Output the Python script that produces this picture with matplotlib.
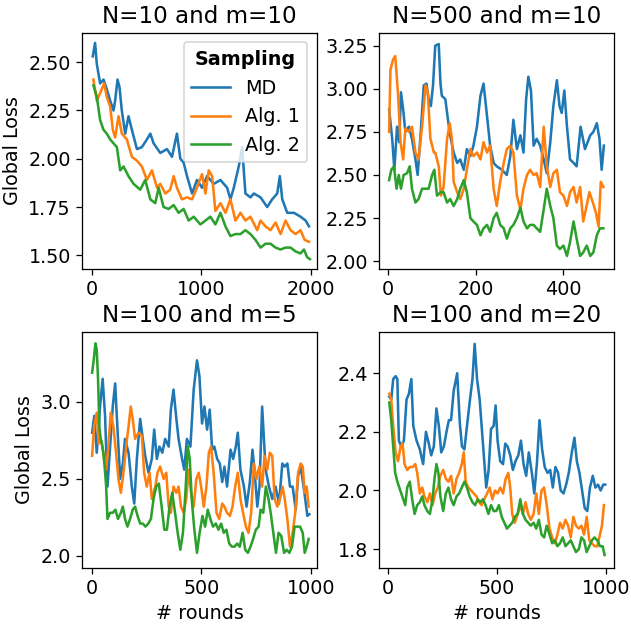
import numpy as np
import matplotlib
matplotlib.use("Agg")
import matplotlib.pyplot as plt

plt.rcParams['font.family'] = ['DejaVu Sans']
plt.rcParams['font.size'] = 12

# ── Panel 1: N=10 and m=10 ────────────────────────────────────────────────
p1_md_x = [9, 30, 46, 76, 107, 137, 168, 198, 213, 235, 253, 274, 305, 335, 366,
           412, 457, 503, 534, 564, 625, 686, 732, 777, 808, 838, 869, 915, 960, 1006,
           1052, 1113, 1174, 1235, 1265, 1296, 1341, 1372, 1402, 1448, 1479, 1540, 1601,
           1646, 1692, 1716, 1738, 1784, 1845, 1905, 1951, 1982]
p1_md_y = [2.53, 2.60, 2.49, 2.39, 2.41, 2.36, 2.30, 2.25, 2.30, 2.41, 2.37, 2.25, 2.13,
           2.22, 2.15, 2.05, 2.06, 2.10, 2.13, 2.08, 2.03, 2.05, 2.01, 2.13, 2.00, 1.98,
           1.91, 1.82, 1.89, 1.85, 1.91, 1.87, 1.89, 1.85, 1.79, 1.85, 1.96, 2.06, 1.82,
           1.80, 1.82, 1.80, 1.75, 1.79, 1.82, 1.91, 1.79, 1.72, 1.72, 1.70, 1.68, 1.65]
p1_a1_x = [15, 46, 76, 113, 137, 168, 192, 213, 244, 274, 320, 366, 412, 457, 503,
           549, 595, 625, 671, 716, 747, 777, 823, 869, 915, 960, 1006, 1037, 1067, 1098,
           1128, 1174, 1220, 1265, 1311, 1357, 1402, 1448, 1509, 1540, 1585, 1631, 1677,
           1723, 1768, 1814, 1860, 1905, 1942, 1982]
p1_a1_y = [2.41, 2.30, 2.34, 2.39, 2.32, 2.27, 2.15, 2.11, 2.22, 2.13, 2.10, 2.01, 1.99,
           1.96, 1.89, 1.94, 1.85, 1.87, 1.82, 1.84, 1.91, 1.85, 1.79, 1.80, 1.79, 1.85,
           1.92, 1.82, 1.94, 1.91, 1.73, 1.77, 1.72, 1.79, 1.68, 1.72, 1.68, 1.70, 1.63,
           1.68, 1.65, 1.63, 1.67, 1.61, 1.68, 1.63, 1.61, 1.63, 1.58, 1.57]
p1_a2_x = [15, 46, 76, 107, 137, 168, 198, 229, 259, 290, 335, 381, 442, 488, 534,
           579, 610, 655, 701, 747, 793, 838, 884, 930, 991, 1037, 1082, 1128, 1174, 1220,
           1265, 1311, 1357, 1402, 1448, 1494, 1540, 1585, 1631, 1677, 1723, 1768, 1814,
           1860, 1905, 1936, 1966, 1991]
p1_a2_y = [2.38, 2.32, 2.20, 2.15, 2.13, 2.10, 2.08, 2.06, 1.94, 1.96, 1.91, 1.87, 1.84,
           1.89, 1.79, 1.77, 1.85, 1.75, 1.74, 1.76, 1.72, 1.74, 1.68, 1.70, 1.66, 1.68,
           1.70, 1.66, 1.72, 1.65, 1.60, 1.61, 1.61, 1.63, 1.61, 1.58, 1.54, 1.56, 1.56,
           1.54, 1.53, 1.54, 1.54, 1.52, 1.51, 1.53, 1.49, 1.48]

# ── Panel 2: N=500 and m=10 ───────────────────────────────────────────────
p2_md_x = [3, 10, 15, 21, 26, 30, 35, 40, 48, 55, 63, 68, 74, 82, 88, 93, 98, 103, 108,
           116, 120, 123, 131, 136, 142, 150, 158, 165, 173, 180, 188, 195, 203, 211, 218,
           226, 233, 241, 248, 260, 271, 279, 286, 294, 302, 309, 315, 320, 326, 332, 339,
           347, 355, 362, 370, 377, 385, 391, 396, 402, 408, 415, 423, 430, 439, 449, 461,
           468, 476, 482, 487, 492]
p2_md_y = [2.88, 2.71, 2.53, 2.78, 2.69, 2.98, 2.88, 2.75, 2.78, 2.71, 2.59, 2.50, 2.71,
           3.02, 3.03, 2.94, 2.90, 3.02, 3.25, 3.26, 3.03, 2.96, 2.94, 2.84, 2.73, 2.63,
           2.57, 2.59, 2.53, 2.65, 2.61, 2.67, 2.78, 2.96, 3.03, 2.84, 2.67, 2.57, 2.55,
           2.53, 2.50, 2.61, 2.82, 2.65, 2.73, 2.63, 2.94, 3.07, 2.99, 2.67, 2.71, 2.67,
           2.59, 2.51, 2.69, 2.90, 3.05, 2.90, 2.86, 2.99, 2.78, 2.59, 2.57, 2.55, 2.78,
           2.65, 2.73, 2.75, 2.80, 2.71, 2.53, 2.67]
p2_a1_x = [3, 6, 12, 17, 23, 29, 35, 40, 48, 55, 63, 70, 78, 86, 91, 97, 105, 108, 116,
           121, 127, 135, 141, 146, 150, 158, 165, 173, 180, 188, 195, 203, 211, 218, 226,
           233, 241, 248, 256, 264, 271, 279, 286, 294, 302, 309, 317, 324, 332, 339, 347,
           355, 362, 370, 377, 385, 392, 400, 408, 415, 423, 430, 438, 445, 451, 459, 467,
           474, 480, 485, 491]
p2_a1_y = [2.75, 3.11, 3.17, 3.19, 2.98, 2.69, 2.59, 2.77, 2.75, 2.78, 2.63, 2.59, 2.78,
           3.02, 2.98, 2.71, 2.63, 2.63, 2.55, 2.38, 2.43, 2.71, 2.80, 2.71, 2.46, 2.40,
           2.36, 2.42, 2.53, 2.65, 2.61, 2.63, 2.59, 2.69, 2.63, 2.67, 2.42, 2.32, 2.46,
           2.57, 2.65, 2.67, 2.63, 2.38, 2.30, 2.42, 2.50, 2.53, 2.50, 2.51, 2.43, 2.78,
           2.55, 2.43, 2.51, 2.53, 2.40, 2.38, 2.32, 2.40, 2.43, 2.34, 2.43, 2.23, 2.30,
           2.40, 2.34, 2.28, 2.20, 2.46, 2.43]
p2_a2_x = [3, 8, 14, 20, 25, 30, 36, 44, 50, 55, 63, 70, 78, 86, 93, 101, 106, 112, 120,
           127, 135, 142, 150, 158, 165, 173, 180, 188, 195, 203, 211, 218, 226, 233, 241,
           248, 256, 264, 271, 279, 286, 294, 302, 309, 317, 324, 332, 339, 347, 355, 362,
           370, 377, 385, 392, 400, 408, 415, 423, 430, 438, 445, 453, 461, 468, 476, 483,
           491]
p2_a2_y = [2.47, 2.53, 2.55, 2.42, 2.50, 2.42, 2.50, 2.51, 2.55, 2.42, 2.34, 2.36, 2.42,
           2.42, 2.42, 2.50, 2.53, 2.38, 2.40, 2.40, 2.34, 2.36, 2.32, 2.36, 2.42, 2.47,
           2.40, 2.25, 2.23, 2.21, 2.15, 2.19, 2.21, 2.17, 2.25, 2.28, 2.21, 2.19, 2.13,
           2.19, 2.21, 2.25, 2.31, 2.23, 2.19, 2.21, 2.21, 2.19, 2.17, 2.30, 2.42, 2.32,
           2.25, 2.09, 2.07, 2.09, 2.03, 2.11, 2.23, 2.13, 2.03, 2.05, 2.09, 2.03, 2.05,
           2.15, 2.19, 2.19]

# ── Panel 3: N=100 and m=5 ────────────────────────────────────────────────
p3_md_x = [2, 12, 23, 30, 38, 50, 61, 72, 84, 96, 107, 117, 130, 142, 152, 168, 183, 194,
           206, 221, 233, 244, 259, 274, 285, 297, 309, 322, 335, 351, 361, 373, 386, 396,
           412, 422, 434, 450, 465, 480, 491, 503, 514, 526, 538, 549, 559, 572, 584, 595,
           605, 617, 633, 645, 657, 666, 678, 694, 706, 721, 733, 742, 755, 765, 777, 793,
           808, 823, 838, 854, 869, 880, 892, 904, 916, 930, 941, 953, 968, 983, 992]
p3_md_y = [2.80, 2.91, 2.67, 2.80, 2.97, 3.15, 2.91, 2.45, 2.71, 2.97, 3.12, 2.84, 2.50,
           2.60, 2.76, 2.67, 2.45, 2.34, 2.63, 2.89, 2.76, 2.65, 2.54, 2.63, 2.82, 2.63,
           2.71, 2.67, 2.76, 2.71, 2.95, 3.08, 2.89, 2.76, 2.63, 2.56, 2.76, 2.71, 3.08,
           3.27, 3.17, 2.86, 2.97, 2.82, 2.95, 2.69, 2.71, 2.63, 2.60, 2.48, 2.58, 2.45,
           2.69, 2.63, 2.71, 2.80, 2.56, 2.45, 2.32, 2.48, 2.69, 2.56, 2.32, 2.45, 2.97,
           2.56, 2.45, 2.37, 2.45, 2.34, 2.60, 2.58, 2.60, 2.45, 2.45, 2.30, 2.52, 2.58,
           2.43, 2.26, 2.27]
p3_a1_x = [2, 11, 23, 32, 41, 53, 66, 76, 87, 99, 111, 122, 133, 145, 157, 168, 178, 187,
           198, 213, 229, 239, 251, 264, 274, 290, 300, 312, 328, 340, 351, 361, 373, 386,
           396, 407, 419, 431, 442, 453, 465, 477, 488, 499, 511, 523, 534, 544, 556, 569,
           581, 595, 605, 617, 630, 642, 654, 666, 678, 690, 703, 715, 727, 739, 751, 764,
           777, 788, 800, 812, 823, 834, 846, 858, 870, 880, 892, 904, 916, 928, 941, 953,
           962, 971, 980, 989]
p3_a1_y = [2.65, 2.84, 2.93, 2.73, 2.76, 2.67, 2.56, 2.71, 2.93, 2.84, 2.67, 2.50, 2.41,
           2.54, 2.71, 2.84, 2.97, 2.89, 2.76, 2.80, 2.78, 2.54, 2.45, 2.54, 2.37, 2.45,
           2.54, 2.58, 2.50, 2.54, 2.32, 2.28, 2.45, 2.41, 2.45, 2.32, 2.28, 2.37, 2.56,
           2.41, 2.32, 2.50, 2.54, 2.45, 2.32, 2.45, 2.67, 2.71, 2.54, 2.28, 2.24, 2.34,
           2.32, 2.28, 2.26, 2.32, 2.45, 2.54, 2.37, 2.28, 2.19, 2.15, 2.28, 2.60, 2.50,
           2.58, 2.45, 2.65, 2.56, 2.67, 2.65, 2.37, 2.32, 2.37, 2.45, 2.37, 2.24, 2.06,
           2.15, 2.28, 2.54, 2.60, 2.58, 2.41, 2.45, 2.32]
p3_a2_x = [2, 9, 17, 23, 29, 35, 41, 47, 53, 59, 66, 72, 84, 96, 108, 120, 133, 142, 152,
           163, 175, 187, 198, 209, 221, 233, 245, 258, 270, 282, 294, 306, 319, 331, 343,
           355, 367, 380, 392, 404, 416, 428, 438, 447, 456, 468, 480, 492, 505, 517, 529,
           541, 553, 566, 578, 590, 602, 614, 627, 639, 651, 663, 675, 688, 700, 712, 724,
           736, 748, 761, 770, 782, 794, 806, 816, 828, 840, 852, 864, 877, 889, 901, 913,
           925, 938, 950, 962, 971, 980, 989]
p3_a2_y = [3.19, 3.27, 3.38, 3.34, 3.15, 2.84, 2.76, 2.73, 2.67, 2.58, 2.45, 2.24, 2.28,
           2.28, 2.30, 2.24, 2.28, 2.32, 2.24, 2.19, 2.24, 2.30, 2.32, 2.26, 2.21, 2.21,
           2.19, 2.21, 2.24, 2.37, 2.45, 2.47, 2.32, 2.17, 2.17, 2.32, 2.41, 2.28, 2.15,
           2.04, 2.15, 2.43, 2.71, 2.63, 2.37, 2.17, 2.02, 2.15, 2.26, 2.19, 2.30, 2.24,
           2.19, 2.21, 2.17, 2.21, 2.15, 2.17, 2.08, 2.06, 2.06, 2.08, 2.06, 2.15, 2.04,
           2.02, 2.06, 2.11, 2.17, 2.19, 2.30, 2.28, 2.45, 2.37, 2.28, 2.15, 2.02, 2.15,
           2.13, 2.02, 2.04, 2.02, 2.06, 2.19, 2.19, 2.19, 2.15, 2.02, 2.06, 2.11]

# ── Panel 4: N=100 and m=20 ───────────────────────────────────────────────
p4_md_x = [6, 15, 24, 35, 43, 50, 61, 73, 85, 96, 107, 116, 131, 146, 161, 174, 187, 198,
           210, 222, 233, 244, 256, 268, 279, 289, 301, 317, 329, 339, 350, 362, 374, 387,
           397, 408, 420, 431, 441, 450, 461, 472, 484, 493, 502, 514, 527, 537, 548, 560,
           572, 584, 597, 609, 621, 633, 645, 659, 670, 682, 694, 706, 718, 731, 743, 755,
           767, 779, 791, 804, 816, 828, 842, 854, 865, 877, 889, 901, 913, 925, 938, 950,
           962, 974, 986, 995]
p4_md_y = [2.32, 2.31, 2.38, 2.39, 2.38, 2.17, 2.15, 2.17, 2.31, 2.33, 2.38, 2.22, 2.17,
           2.14, 2.09, 2.20, 2.16, 2.12, 2.15, 2.28, 2.22, 2.13, 2.15, 2.20, 2.24, 2.24,
           2.34, 2.40, 2.23, 2.15, 2.14, 2.22, 2.30, 2.38, 2.50, 2.38, 2.31, 2.20, 2.10,
           2.01, 2.07, 2.21, 2.22, 2.29, 2.17, 2.10, 2.09, 2.16, 2.15, 2.12, 2.07, 2.10,
           2.12, 2.17, 2.09, 2.05, 2.13, 2.06, 1.99, 2.09, 2.24, 2.14, 2.08, 2.06, 2.07,
           2.01, 2.08, 2.06, 2.00, 1.99, 2.02, 2.06, 2.13, 2.18, 2.10, 2.06, 2.00, 1.94,
           1.93, 2.01, 2.05, 2.01, 2.02, 2.00, 2.02, 2.02]
p4_a1_x = [6, 15, 24, 35, 46, 58, 67, 76, 88, 100, 113, 125, 134, 146, 157, 167, 180, 192,
           204, 216, 228, 240, 253, 265, 277, 289, 301, 314, 326, 338, 347, 356, 368, 381,
           393, 405, 417, 429, 441, 454, 466, 478, 490, 502, 514, 527, 539, 551, 560, 569,
           581, 594, 606, 618, 630, 642, 654, 667, 679, 691, 703, 715, 727, 740, 752, 764,
           776, 788, 800, 813, 825, 837, 849, 861, 874, 886, 898, 910, 922, 934, 946, 959,
           971, 980, 989]
p4_a1_y = [2.33, 2.31, 2.22, 2.13, 2.10, 2.15, 2.16, 2.09, 2.07, 2.08, 2.08, 2.09, 2.06,
           1.99, 2.01, 1.98, 1.96, 1.99, 1.95, 1.99, 2.01, 2.05, 2.07, 2.04, 2.03, 2.05,
           1.99, 2.04, 2.06, 2.09, 2.13, 2.03, 2.01, 2.00, 1.99, 1.98, 1.96, 1.95, 1.97,
           1.99, 2.01, 1.97, 2.00, 1.99, 2.01, 1.99, 2.04, 2.06, 2.01, 1.92, 1.89, 1.92,
           1.95, 1.92, 1.96, 1.92, 1.90, 1.92, 1.99, 1.92, 2.00, 2.01, 1.95, 1.87, 1.84,
           1.82, 1.85, 1.89, 1.87, 1.90, 1.88, 1.84, 1.91, 1.88, 1.87, 1.88, 1.85, 1.91,
           1.83, 1.82, 1.81, 1.81, 1.85, 1.88, 1.95]
p4_a2_x = [6, 15, 24, 33, 43, 52, 61, 70, 79, 88, 100, 111, 122, 134, 146, 157, 167, 180,
           192, 204, 213, 222, 231, 240, 253, 265, 277, 289, 301, 314, 326, 338, 350, 362,
           374, 387, 399, 411, 423, 435, 447, 460, 472, 484, 496, 508, 521, 533, 545, 557,
           569, 581, 594, 606, 618, 630, 642, 654, 667, 679, 691, 703, 715, 727, 740, 752,
           764, 776, 788, 800, 813, 825, 837, 849, 861, 874, 886, 898, 910, 922, 934, 946,
           959, 971, 983, 992]
p4_a2_y = [2.30, 2.24, 2.15, 2.06, 2.03, 2.01, 1.99, 1.97, 1.95, 2.01, 2.03, 1.97, 1.92,
           1.95, 1.96, 1.98, 1.95, 1.93, 1.92, 1.97, 2.04, 2.09, 2.06, 1.98, 1.93, 1.99,
           2.01, 1.97, 1.95, 1.98, 1.99, 2.01, 2.03, 2.01, 1.98, 1.96, 1.95, 1.97, 1.96,
           1.97, 1.95, 1.92, 1.95, 1.93, 1.93, 1.95, 1.91, 1.89, 1.87, 1.88, 1.89, 1.91,
           1.92, 1.97, 1.92, 1.90, 1.89, 1.88, 1.89, 1.87, 1.90, 1.85, 1.84, 1.88, 1.85,
           1.82, 1.83, 1.81, 1.82, 1.84, 1.81, 1.82, 1.83, 1.81, 1.79, 1.80, 1.84, 1.83,
           1.79, 1.81, 1.83, 1.84, 1.83, 1.81, 1.81, 1.78]

labels = ["MD", "Alg. 1", "Alg. 2"]
titles = ["N=10 and m=10", "N=500 and m=10", "N=100 and m=5", "N=100 and m=20"]
yticks = [[1.50, 1.75, 2.00, 2.25, 2.50],
          [2.00, 2.25, 2.50, 2.75, 3.00, 3.25],
          [2.0, 2.5, 3.0],
          [1.8, 2.0, 2.2, 2.4]]
xticks = [[0, 1000, 2000], [0, 200, 400], [0, 500, 1000], [0, 500, 1000]]

panels = [
    [(p1_md_x, p1_md_y), (p1_a1_x, p1_a1_y), (p1_a2_x, p1_a2_y)],
    [(p2_md_x, p2_md_y), (p2_a1_x, p2_a1_y), (p2_a2_x, p2_a2_y)],
    [(p3_md_x, p3_md_y), (p3_a1_x, p3_a1_y), (p3_a2_x, p3_a2_y)],
    [(p4_md_x, p4_md_y), (p4_a1_x, p4_a1_y), (p4_a2_x, p4_a2_y)],
]
xlims = [(-89, 2055), (-20, 515), (-44, 1027), (-41, 1035)]
ylims = [(1.43, 2.652), (1.955, 3.325), (1.922, 3.455), (1.736, 2.541)]

DPI = 115
fig, axes = plt.subplots(2, 2, figsize=(631 / DPI, 631 / DPI), dpi=DPI)
fig.subplots_adjust(left=0.130, right=0.973, top=0.948, bottom=0.100,
                    wspace=0.264, hspace=0.267)

for i, ax in enumerate(axes.flat):
    for (xs, ys), lab, c in zip(panels[i], labels, ['C0', 'C1', 'C2']):
        assert len(xs) == len(ys), (i, lab)
        ax.plot(xs, ys, color=c, lw=1.6, label=lab)
    ax.set_title(titles[i], fontsize='large')
    ax.set_xlim(*xlims[i])
    ax.set_ylim(*ylims[i])
    ax.set_yticks(yticks[i])
    ax.set_xticks(xticks[i])
    if i % 2 == 0:
        ax.set_ylabel('Global Loss')
    if i >= 2:
        ax.set_xlabel('# rounds')

axes[0, 0].legend(loc='upper right', title='Sampling',
                  title_fontproperties={'weight': 'bold'})

fig.savefig("out.png", dpi=DPI)
